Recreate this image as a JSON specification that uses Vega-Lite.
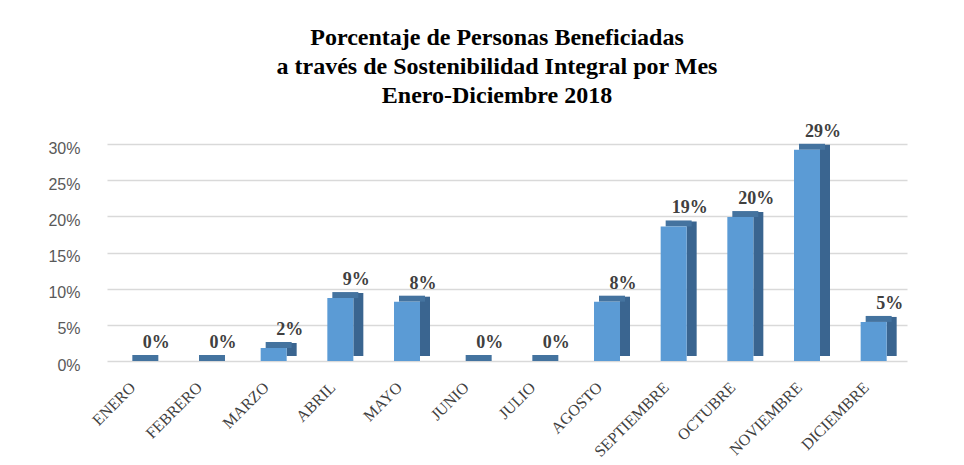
{
  "$schema": "https://vega.github.io/schema/vega-lite/v6.json",
  "width": 800,
  "height": 217,
  "autosize": {"type": "none"},
  "padding": {"left": 107, "top": 144, "right": 57, "bottom": 104},
  "background": "white",
  "config": {"view": {"stroke": null}},
  "title": {
    "text": ["Porcentaje de Personas Beneficiadas", "a través de Sostenibilidad Integral por Mes", "Enero-Diciembre 2018"],
    "font": "Liberation Serif",
    "fontSize": 24,
    "fontWeight": "bold",
    "color": "#000000",
    "lineHeight": 29,
    "anchor": "middle",
    "offset": 15,
    "dx": -10
  },
  "data": {
    "values": [
      {"mes": "ENERO", "v": 0},
      {"mes": "FEBRERO", "v": 0},
      {"mes": "MARZO", "v": 0.018},
      {"mes": "ABRIL", "v": 0.087},
      {"mes": "MAYO", "v": 0.082},
      {"mes": "JUNIO", "v": 0},
      {"mes": "JULIO", "v": 0},
      {"mes": "AGOSTO", "v": 0.082},
      {"mes": "SEPTIEMBRE", "v": 0.186},
      {"mes": "OCTUBRE", "v": 0.199},
      {"mes": "NOVIEMBRE", "v": 0.292},
      {"mes": "DICIEMBRE", "v": 0.054}
    ]
  },
  "encoding": {
    "x": {
      "field": "mes",
      "type": "nominal",
      "sort": null,
      "scale": {"paddingInner": 0.61, "paddingOuter": 0.305},
      "axis": {
        "title": null,
        "labelAngle": -45,
        "labelAlign": "right",
        "labelBaseline": "top",
        "labelFont": "Liberation Serif",
        "labelFontSize": 16,
        "labelColor": "#404040",
        "labelPadding": 18,
        "labelOffset": -13,
        "domain": false,
        "ticks": false,
        "grid": false
      }
    },
    "y": {
      "field": "v",
      "type": "quantitative",
      "scale": {"domain": [0, 0.3], "nice": false},
      "axis": {
        "title": null,
        "format": ".0%",
        "values": [0, 0.05, 0.1, 0.15, 0.2, 0.25, 0.3],
        "labelFont": "Liberation Sans",
        "labelFontSize": 16,
        "labelColor": "#595959",
        "labelPadding": 27,
        "labelOffset": 4,
        "domain": false,
        "ticks": false,
        "grid": true,
        "gridColor": "#D9D9D9",
        "gridWidth": 1.5
      }
    }
  },
  "layer": [
    {
      "mark": {"type": "bar", "color": "#3A6590", "width": 10, "xOffset": 18, "yOffset": -5, "y2Offset": -5},
      "encoding": {}
    },
    {
      "mark": {"type": "bar", "color": "#44739F", "width": 26, "xOffset": 5, "yOffset": -6, "y2Offset": 0},
      "encoding": {"y2": {"field": "v"}}
    },
    {
      "mark": {"type": "bar", "color": "#5B9BD5", "width": 26},
      "encoding": {}
    },
    {
      "mark": {"type": "text", "dx": 16, "dy": -18, "font": "Liberation Serif", "fontWeight": "bold", "fontSize": 18, "color": "#404040"},
      "encoding": {"text": {"field": "v", "type": "quantitative", "format": ".0%"}}
    }
  ]
}
